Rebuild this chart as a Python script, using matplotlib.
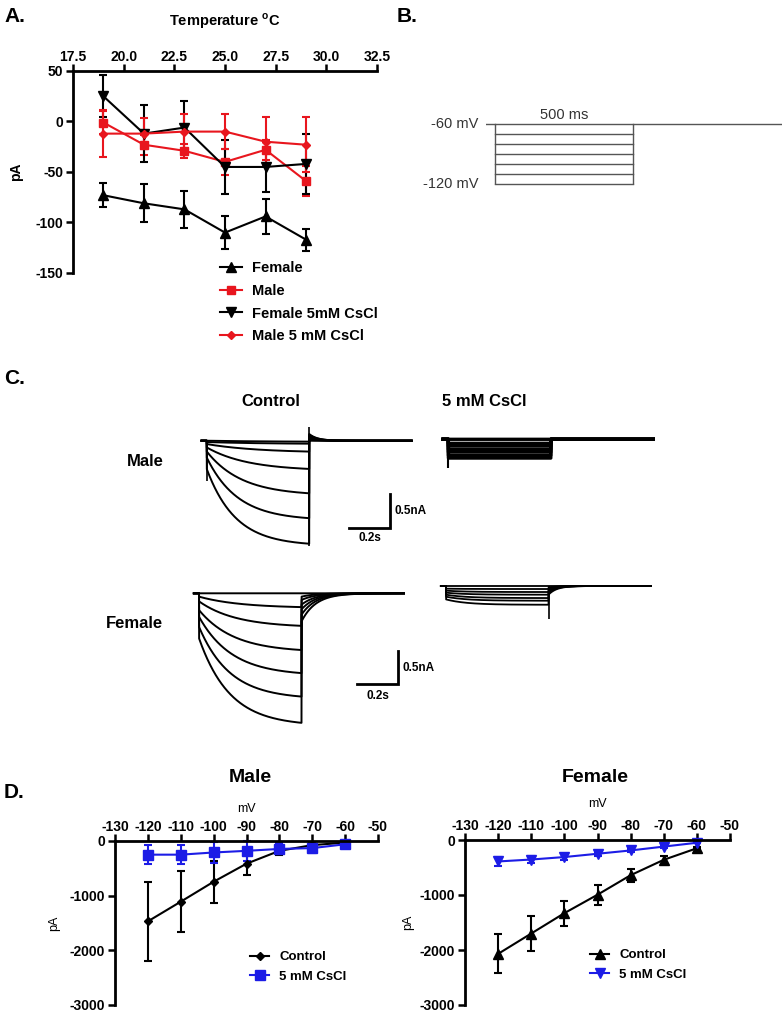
import numpy as np
import matplotlib
matplotlib.use("Agg")
import matplotlib.pyplot as plt

W, H = 784, 1014

# --- A: current vs temperature ---
temps = [19, 21, 23, 25, 27, 29]
female_pA = [-73, -81, -87, -110, -94, -117]
female_err = [12, 19, 18, 16, 17, 11]
male_pA = [-1, -23, -29, -40, -28, -59]
male_err = [11, 10, 7, 13, 10, 15]
female_cs_pA = [25, -12, -6, -45, -45, -42]
female_cs_pA_err = [21, 28, 26, 27, 25, 30]
male_cs_pA = [-12, -12, -10, -10, -20, -23]
male_cs_pA_err = [23, 15, 17, 17, 24, 27]
labels_A = ["Female", "Male", "Female 5mM CsCl", "Male 5 mM CsCl"]

# --- B: voltage protocol ---
step_levels = [-60, -70, -80, -90, -100, -110, -120]
step_ms = 500

# --- C: example traces (nA) ---
STEP = 0.5
male_ctrl_inst = [0.0, -0.02, -0.05, -0.10, -0.16, -0.25, -0.42]
male_ctrl_ss = [-0.017, -0.05, -0.18, -0.45, -0.82, -1.19, -1.57]
male_ctrl_tau = [0.30, 0.30, 0.25, 0.20, 0.17, 0.15, 0.14]
male_ctrl_tail = [0.0, 0.01, 0.03, 0.05, 0.07, 0.09, 0.10]
female_ctrl_inst = [0.0, -0.05, -0.12, -0.25, -0.35, -0.50, -0.67]
female_ctrl_ss = [0.0, -0.22, -0.51, -0.88, -1.23, -1.58, -1.98]
female_ctrl_tau = [0.20, 0.20, 0.18, 0.17, 0.16, 0.15, 0.15]
female_ctrl_tail = [0.0, -0.05, -0.10, -0.17, -0.24, -0.32, -0.42]
male_cs_level = [0.0, -0.06, -0.10, -0.15, -0.19, -0.24, -0.28]
female_cs_inst = [0.0, -0.04, -0.07, -0.10, -0.13, -0.16, -0.20]
female_cs_ss = [0.0, -0.045, -0.09, -0.13, -0.18, -0.22, -0.28]
female_cs_tail = [0.0, -0.02, -0.04, -0.06, -0.08, -0.10, -0.13]

# --- D: I-V curves ---
volts = [-120, -110, -100, -90, -80, -70, -60]
iv_male_ctrl = [-1470, -1110, -745, -415, -180, -75, -30]
iv_male_ctrl_err = [720, 560, 380, 200, 80, 40, 15]
iv_male_cs = [-250, -250, -210, -180, -145, -130, -60]
iv_male_cs_err = [170, 170, 190, 180, 100, 95, 30]
iv_female_ctrl = [-2070, -1700, -1330, -995, -640, -360, -150]
iv_female_ctrl_err = [355, 315, 230, 180, 120, 70, 20]
iv_female_cs = [-390, -355, -310, -250, -190, -120, -50]
iv_female_cs_err = [90, 70, 60, 40, 30, 20, 10]
labels_D = ["Control", "5 mM CsCl"]

RED = "#e8161e"
BLUE = "#1c1ce6"

plt.rcParams["font.family"] = ["Liberation Sans", "DejaVu Sans"]
plt.rcParams["font.weight"] = "bold"
plt.rcParams["axes.unicode_minus"] = False
plt.rcParams["mathtext.fontset"] = "custom"
plt.rcParams["mathtext.rm"] = "Liberation Sans"
plt.rcParams["mathtext.bf"] = "Liberation Sans:bold"

fig = plt.figure(figsize=(W / 100, H / 100), dpi=100)


def px_axes(x0, y0, x1, y1):
    return fig.add_axes([x0 / W, 1 - y1 / H, (x1 - x0) / W, (y1 - y0) / H])


def fig_text(x, y, s, **kw):
    fig.text(x / W, 1 - y / H, s, **kw)


def top_left_style(ax):
    ax.spines["bottom"].set_visible(False)
    ax.spines["right"].set_visible(False)
    ax.spines["top"].set_linewidth(2)
    ax.spines["left"].set_linewidth(2)
    ax.xaxis.tick_top()
    ax.xaxis.set_label_position("top")
    ax.tick_params(width=1.8, length=5, labelsize=10, pad=2)
    ax.tick_params(axis="x", pad=0)
    ax.patch.set_visible(False)


def series(ax, x, y, err, color, marker, ms):
    c = ax.errorbar(x, y, yerr=err, color=color, marker=marker, ms=ms, lw=1.5,
                    elinewidth=1.5, capsize=3, capthick=1.5, clip_on=False)
    for a in list(c.lines[1]) + list(c.lines[2]):
        a.set_clip_on(False)
    return c.lines[0]


# ---------------- A ----------------
axA = px_axes(73, 71, 377, 273)
top_left_style(axA)
hA = [
    series(axA, temps, female_pA, female_err, "black", "^", 7),
    series(axA, temps, male_pA, male_err, RED, "s", 6),
    series(axA, temps, female_cs_pA, female_cs_pA_err, "black", "v", 7),
    series(axA, temps, male_cs_pA, male_cs_pA_err, RED, "D", 4),
]
axA.set_xlim(17.5, 32.5)
axA.set_ylim(-150, 50)
axA.set_xticks(np.arange(17.5, 32.6, 2.5))
axA.set_xticklabels([f"{v:.1f}" for v in np.arange(17.5, 32.6, 2.5)])
axA.set_yticks([50, 0, -50, -100, -150])
axA.set_xlabel(r"Temperature $^{\mathbf{o}}$C", fontsize=10.5, fontweight="bold")
axA.xaxis.set_label_coords(0.5, 1.225)
axA.set_ylabel("pA", fontsize=10, fontweight="bold")
axA.yaxis.set_label_coords(-0.165, 0.5)
axA.legend(hA, labels_A, loc="upper left", bbox_to_anchor=(220 / W, 1 - 261 / H),
           bbox_transform=fig.transFigure, frameon=False, fontsize=10.5,
           handlelength=1.5, handletextpad=0.7, labelspacing=0.6,
           borderpad=0, borderaxespad=0)

# ---------------- B ----------------
axB = px_axes(486, 110, 782, 190)
axB.axis("off")
axB.set_xlim(-33, 1040)
axB.set_ylim(-126, -46)
grey = "#555555"
axB.plot([-33, 0], [step_levels[0]] * 2, color=grey, lw=1)
axB.plot([step_ms, 1040], [step_levels[0]] * 2, color=grey, lw=1)
for v in step_levels:
    axB.plot([0, step_ms], [v, v], color=grey, lw=1)
axB.vlines([0, step_ms], min(step_levels), max(step_levels), color=grey, lw=1)
for v in (step_levels[0], step_levels[-1]):
    axB.text(-62, v, f"{v} mV", ha="right", va="center", fontsize=10.5,
             fontweight="normal", color="#333333")
axB.text(step_ms / 2, -51, f"{step_ms} ms", ha="center", va="center", fontsize=10.5,
         fontweight="normal", color="#333333")

# ---------------- C ----------------
PX_S, PX_NA = 205, 67
t = np.linspace(-0.025, 1.0, 3000)


def sweep(inst, ss, tau, tail, tau_tail):
    i = np.zeros_like(t)
    on = (t >= 0) & (t < STEP)
    i[on] = inst + (ss - inst) * (1 - np.exp(-t[on] / tau))
    off = t >= STEP
    i[off] = tail * np.exp(-(t[off] - STEP) / tau_tail)
    return i


def trace_axes(step_x, base_y):
    ax = px_axes(step_x - 0.05 * PX_S, base_y - 0.5 * PX_NA,
                 step_x + 1.05 * PX_S, base_y + 2.2 * PX_NA)
    ax.set_xlim(-0.05, 1.05)
    ax.set_ylim(-2.2, 0.5)
    ax.axis("off")
    return ax


def scale_bar(ax, tx, top, label_y_na, label_y_s):
    ax.plot([tx - 0.2, tx, tx], [top - 0.5, top - 0.5, top], color="black", lw=2,
            solid_joinstyle="miter")
    ax.text(tx + 0.02, label_y_na, "0.5nA", ha="left", va="center", fontsize=8.5)
    ax.text(tx - 0.1, label_y_s, "0.2s", ha="center", va="center", fontsize=8.5)


ax = trace_axes(206.7, 440.7)
for k in range(len(male_ctrl_ss)):
    ax.plot(t, sweep(male_ctrl_inst[k], male_ctrl_ss[k], male_ctrl_tau[k],
                     male_ctrl_tail[k], 0.04), color="black", lw=1.4)
ax.vlines(0, -0.6, 0, color="black", lw=1.2)
ax.vlines(STEP, male_ctrl_ss[-1], 0.21, color="black", lw=1.2)
scale_bar(ax, 0.894, -0.80, -1.05, -1.45)

ax = trace_axes(448.3, 439.3)
for lv in male_cs_level:
    ax.plot(t, sweep(lv, lv, 0.1, 0.0, 0.04), color="black", lw=2.4)
ax.vlines(0, -0.43, 0, color="black", lw=1.5)

ax = trace_axes(199, 593.3)
for k in range(len(female_ctrl_ss)):
    ax.plot(t, sweep(female_ctrl_inst[k], female_ctrl_ss[k], female_ctrl_tau[k],
                     female_ctrl_tail[k], 0.07), color="black", lw=1.4)
scale_bar(ax, 0.972, -0.857, -1.11, -1.54)

ax = trace_axes(446, 586)
for k in range(len(female_cs_ss)):
    ax.plot(t, sweep(female_cs_inst[k], female_cs_ss[k], 0.1,
                     female_cs_tail[k], 0.04), color="black", lw=1.3)
ax.vlines(STEP, -0.5, 0, color="black", lw=1.2)

fig_text(271, 402, "Control", ha="center", va="center", fontsize=12)
fig_text(442, 402, "5 mM CsCl", ha="left", va="center", fontsize=12)
fig_text(145, 462, "Male", ha="center", va="center", fontsize=12)
fig_text(134, 623, "Female", ha="center", va="center", fontsize=12)


# ---------------- D ----------------
def iv_panel(box, ctrl, ctrl_err, cs, cs_err, m_ctrl, ms_ctrl, m_cs, title, title_x,
             mv_y, pa_x, leg_xy):
    ax = px_axes(*box)
    top_left_style(ax)
    h1 = series(ax, volts, ctrl, ctrl_err, "black", m_ctrl, ms_ctrl)
    h2 = series(ax, volts, cs, cs_err, BLUE, m_cs, 7)
    ax.set_xlim(-130, -50)
    ax.set_ylim(-3000, 0)
    ax.set_xticks(range(-130, -49, 10))
    ax.set_yticks([0, -1000, -2000, -3000])
    ax.tick_params(labelsize=10)
    ax.set_xlabel("mV", fontsize=9)
    ax.xaxis.set_label_coords(0.5, 1 + (box[1] - mv_y - 3) / (box[3] - box[1]))
    ax.set_ylabel("pA", fontsize=9)
    ax.yaxis.set_label_coords((pa_x - box[0]) / (box[2] - box[0]), 0.5)
    ax.legend([h1, h2], labels_D, loc="upper left",
              bbox_to_anchor=(leg_xy[0] / W, 1 - leg_xy[1] / H),
              bbox_transform=fig.transFigure, frameon=False, fontsize=9.5,
              handlelength=1.45, handletextpad=0.75, labelspacing=0.55,
              borderpad=0, borderaxespad=0)
    fig_text(title_x, 778, title, ha="center", va="center", fontsize=14)


iv_panel((115, 841, 378, 1005), iv_male_ctrl, iv_male_ctrl_err, iv_male_cs, iv_male_cs_err,
         "D", 4.5, "s", "Male", 250, 809, 60, (250, 951))
iv_panel((465, 840, 730, 1005), iv_female_ctrl, iv_female_ctrl_err, iv_female_cs,
         iv_female_cs_err, "^", 7, "v", "Female", 595, 804, 414, (590, 949))

# panel letters
for letter, x, y in [("A.", 4, 17), ("B.", 397, 17), ("C.", 4, 378), ("D.", 4, 793)]:
    fig_text(x, y, letter, ha="left", va="center", fontsize=15)

fig.savefig("out.png", dpi=100)
